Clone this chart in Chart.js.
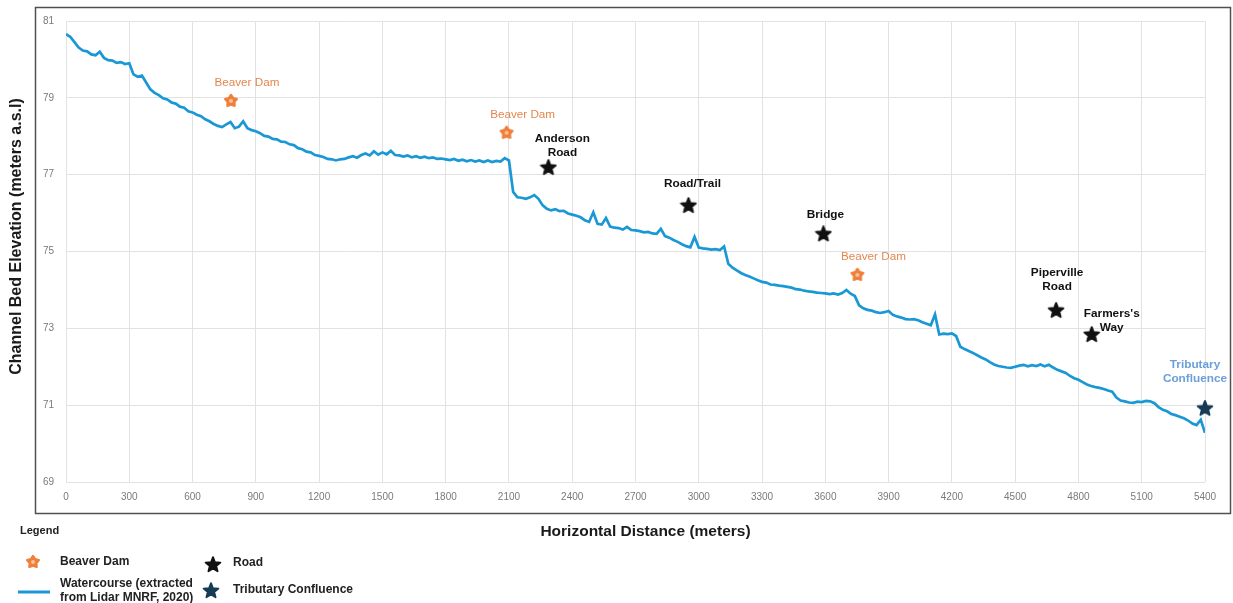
<!DOCTYPE html>
<html>
<head>
<meta charset="utf-8">
<title>Channel Bed Profile</title>
<script src="https://cdn.jsdelivr.net/npm/chart.js@4/dist/chart.umd.min.js"></script>
<style>
  html, body { margin: 0; padding: 0; background: #ffffff; }
  #profile { display: block; }
</style>
</head>
<body>
<canvas id="profile" width="1233" height="603"></canvas>
<script>
// ---- Longitudinal profile (Lidar MNRF, 2020), sampled every 20 m ----
const distanceM = [
  0, 20, 40, 60, 80, 100, 120, 140, 160, 180, 200, 220, 240, 260, 280,
  300, 320, 340, 360, 380, 400, 420, 440, 460, 480, 500, 520, 540, 560, 580,
  600, 620, 640, 660, 680, 700, 720, 740, 760, 780, 800, 820, 840, 860, 880,
  900, 920, 940, 960, 980, 1000, 1020, 1040, 1060, 1080, 1100, 1120, 1140, 1160, 1180,
  1200, 1220, 1240, 1260, 1280, 1300, 1320, 1340, 1360, 1380, 1400, 1420, 1440, 1460, 1480,
  1500, 1520, 1540, 1560, 1580, 1600, 1620, 1640, 1660, 1680, 1700, 1720, 1740, 1760, 1780,
  1800, 1820, 1840, 1860, 1880, 1900, 1920, 1940, 1960, 1980, 2000, 2020, 2040, 2060, 2080,
  2100, 2120, 2140, 2160, 2180, 2200, 2220, 2240, 2260, 2280, 2300, 2320, 2340, 2360, 2380,
  2400, 2420, 2440, 2460, 2480, 2500, 2520, 2540, 2560, 2580, 2600, 2620, 2640, 2660, 2680,
  2700, 2720, 2740, 2760, 2780, 2800, 2820, 2840, 2860, 2880, 2900, 2920, 2940, 2960, 2980,
  3000, 3020, 3040, 3060, 3080, 3100, 3120, 3140, 3160, 3180, 3200, 3220, 3240, 3260, 3280,
  3300, 3320, 3340, 3360, 3380, 3400, 3420, 3440, 3460, 3480, 3500, 3520, 3540, 3560, 3580,
  3600, 3620, 3640, 3660, 3680, 3700, 3720, 3740, 3760, 3780, 3800, 3820, 3840, 3860, 3880,
  3900, 3920, 3940, 3960, 3980, 4000, 4020, 4040, 4060, 4080, 4100, 4120, 4140, 4160, 4180,
  4200, 4220, 4240, 4260, 4280, 4300, 4320, 4340, 4360, 4380, 4400, 4420, 4440, 4460, 4480,
  4500, 4520, 4540, 4560, 4580, 4600, 4620, 4640, 4660, 4680, 4700, 4720, 4740, 4760, 4780,
  4800, 4820, 4840, 4860, 4880, 4900, 4920, 4940, 4960, 4980, 5000, 5020, 5040, 5060, 5080,
  5100, 5120, 5140, 5160, 5180, 5200, 5220, 5240, 5260, 5280, 5300, 5320, 5340, 5360, 5380,
  5400
];

const elevationM = [
  80.66, 80.59, 80.45, 80.31, 80.23, 80.21, 80.13, 80.11, 80.20, 80.04, 79.98, 79.97, 79.91, 79.93, 79.88,
  79.90, 79.61, 79.55, 79.58, 79.40, 79.22, 79.13, 79.07, 78.99, 78.96, 78.88, 78.85, 78.77, 78.74, 78.65,
  78.62, 78.56, 78.52, 78.44, 78.39, 78.32, 78.27, 78.24, 78.31, 78.37, 78.21, 78.25, 78.39, 78.21, 78.16,
  78.13, 78.08, 78.01, 77.99, 77.93, 77.92, 77.86, 77.85, 77.79, 77.77, 77.69, 77.66, 77.60, 77.58, 77.51,
  77.49, 77.46, 77.41, 77.40, 77.37, 77.40, 77.41, 77.45, 77.48, 77.44, 77.51, 77.55, 77.50, 77.61, 77.52,
  77.58, 77.53, 77.62, 77.51, 77.50, 77.47, 77.50, 77.45, 77.48, 77.44, 77.47, 77.43, 77.45, 77.41, 77.42,
  77.40, 77.38, 77.41, 77.36, 77.39, 77.35, 77.38, 77.34, 77.37, 77.33, 77.37, 77.33, 77.36, 77.34, 77.43,
  77.37, 76.55, 76.41, 76.40, 76.37, 76.41, 76.47, 76.37, 76.20, 76.11, 76.07, 76.10, 76.05, 76.06, 75.99,
  75.96, 75.93, 75.89, 75.81, 75.77, 76.02, 75.72, 75.70, 75.87, 75.65, 75.62, 75.61, 75.57, 75.64, 75.56,
  75.55, 75.53, 75.50, 75.51, 75.47, 75.46, 75.59, 75.40, 75.36, 75.30, 75.25, 75.19, 75.14, 75.11, 75.38,
  75.10, 75.08, 75.07, 75.05, 75.06, 75.04, 75.13, 74.68, 74.58, 74.51, 74.44, 74.39, 74.35, 74.30, 74.25,
  74.21, 74.19, 74.14, 74.13, 74.11, 74.10, 74.08, 74.06, 74.02, 74.01, 73.98, 73.96, 73.95, 73.93, 73.92,
  73.91, 73.89, 73.91, 73.88, 73.92, 74.00, 73.90, 73.84, 73.60, 73.52, 73.48, 73.46, 73.42, 73.40, 73.42,
  73.45, 73.35, 73.31, 73.28, 73.24, 73.23, 73.24, 73.21, 73.16, 73.12, 73.08, 73.36, 72.84, 72.86, 72.85,
  72.87, 72.80, 72.52, 72.46, 72.41, 72.36, 72.30, 72.24, 72.19, 72.12, 72.06, 72.02, 72.00, 71.98, 71.97,
  72.00, 72.03, 72.05, 72.01, 72.04, 72.02, 72.06, 72.01, 72.05, 71.98, 71.92, 71.88, 71.84, 71.76, 71.70,
  71.66, 71.60, 71.54, 71.50, 71.47, 71.45, 71.42, 71.38, 71.35, 71.20, 71.12, 71.10, 71.07, 71.06, 71.09,
  71.08, 71.11, 71.10, 71.05, 70.95, 70.88, 70.84, 70.77, 70.74, 70.70, 70.66, 70.60, 70.52, 70.48, 70.62,
  70.28
];

// ---- Features along the watercourse ----
const beaverDamDistM = [782, 2089, 3752];
const beaverDamElevM = [78.92, 78.09, 74.39];

const roadNames = [['Anderson', 'Road'], ['Road/Trail'], ['Bridge'], ['Piperville', 'Road'], ["Farmers's", 'Way']];
const roadDistM = [2287, 2951, 3591, 4694, 4863];
const roadElevM = [77.18, 76.19, 75.45, 73.46, 72.83];

const tributaryNames = [['Tributary', 'Confluence']];
const tributaryDistM = [5400];
const tributaryElevM = [70.91];

// ---- Axis ticks ----
const xTickStep = 300;
const yTickStep = 2;
const xRange = [0, 5400];
const yRange = [69, 81];

// ---- Styling ----
const LINE_BLUE = '#1a98d5';
const DAM_ORANGE = '#ef7f3a';
const DAM_TEXT = '#e2874e';
const ROAD_BLACK = '#111111';
const TRIB_NAVY = '#163b57';
const TRIB_TEXT = '#6a9fd9';
const FONT = '"Liberation Sans", Arial, Helvetica, sans-serif';

// label placement around each marker (pixels: dx, dy of first line)
const roadLabelOffsets = [[14, -29], [4, -22], [2, -19], [1, -38], [20, -21]];
const damLabelOffset = [16, -18];
const tribLabelOffset = [-10, -44];
const LINE_GAP = 14;

function starCanvas(size, rOuter, rInner, fill, strokeW, centre) {
  const c = document.createElement('canvas');
  c.width = size; c.height = size;
  const g = c.getContext('2d');
  g.translate(size / 2, size / 2);
  g.beginPath();
  for (let i = 0; i < 10; i++) {
    const r = i % 2 ? rInner : rOuter;
    const a = -Math.PI / 2 + i * Math.PI / 5;
    g.lineTo(r * Math.cos(a), r * Math.sin(a));
  }
  g.closePath();
  g.fillStyle = fill;
  g.fill();
  g.lineJoin = 'round';
  g.lineWidth = strokeW;
  g.strokeStyle = fill;
  g.stroke();
  if (centre) {
    g.beginPath();
    g.arc(0, 0, 2, 0, Math.PI * 2);
    g.fillStyle = centre;
    g.fill();
  }
  return c;
}

const damIcon = starCanvas(16, 6.2, 3.6, DAM_ORANGE, 2.2, '#f8c39c');
const roadIcon = starCanvas(18, 7.8, 3.4, ROAD_BLACK, 1.8, null);
const tribIcon = starCanvas(18, 7.8, 3.4, TRIB_NAVY, 1.8, null);

function pairs(xs, ys) { return xs.map((x, i) => ({ x: x, y: ys[i] })); }

const featureLabels = {
  id: 'featureLabels',
  afterDatasetsDraw(chart) {
    const ctx = chart.ctx;
    ctx.save();
    ctx.textAlign = 'center';
    ctx.textBaseline = 'middle';

    const dams = chart.getDatasetMeta(1).data;
    ctx.font = '11.7px ' + FONT;
    ctx.fillStyle = DAM_TEXT;
    dams.forEach(p => ctx.fillText('Beaver Dam', p.x + damLabelOffset[0], p.y + damLabelOffset[1]));

    const roads = chart.getDatasetMeta(2).data;
    ctx.font = 'bold 11.8px ' + FONT;
    ctx.fillStyle = ROAD_BLACK;
    roads.forEach((p, i) => {
      const [dx, dy] = roadLabelOffsets[i];
      roadNames[i].forEach((t, k) => ctx.fillText(t, p.x + dx, p.y + dy + k * LINE_GAP));
    });

    const trib = chart.getDatasetMeta(3).data;
    ctx.fillStyle = TRIB_TEXT;
    trib.forEach((p, i) => {
      tributaryNames[i].forEach((t, k) => ctx.fillText(t, p.x + tribLabelOffset[0], p.y + tribLabelOffset[1] + k * LINE_GAP));
    });
    ctx.restore();
  }
};

const frameTitlesLegend = {
  id: 'frameTitlesLegend',
  afterDraw(chart) {
    const ctx = chart.ctx;
    const a = chart.chartArea;
    ctx.save();

    // outer frame around the plot
    ctx.strokeStyle = '#505050';
    ctx.lineWidth = 1.5;
    ctx.strokeRect(a.left - 30.5, a.top - 13.5, (a.right - a.left) + 56, (a.bottom - a.top) + 45);

    // axis titles
    ctx.fillStyle = '#1a1a1a';
    ctx.textAlign = 'center';
    ctx.textBaseline = 'middle';
    ctx.font = 'bold 15.5px ' + FONT;
    ctx.fillText('Horizontal Distance (meters)', (a.left + a.right) / 2 + 10, a.bottom + 50);
    ctx.save();
    ctx.translate(a.left - 49, (a.top + a.bottom) / 2 - 15);
    ctx.rotate(-Math.PI / 2);
    ctx.font = 'bold 16px ' + FONT;
    ctx.fillText('Channel Bed Elevation (meters a.s.l)', 0, 0);
    ctx.restore();

    // legend
    ctx.textAlign = 'left';
    ctx.fillStyle = '#222222';
    ctx.font = 'bold 11px ' + FONT;
    ctx.fillText('Legend', 20, 531);
    ctx.font = 'bold 12px ' + FONT;
    ctx.drawImage(damIcon, 33 - 8, 562 - 8);
    ctx.fillText('Beaver Dam', 60, 562);
    ctx.strokeStyle = LINE_BLUE;
    ctx.lineWidth = 3;
    ctx.beginPath();
    ctx.moveTo(18, 592);
    ctx.lineTo(50, 592);
    ctx.stroke();
    ctx.fillText('Watercourse (extracted', 60, 584);
    ctx.fillText('from Lidar MNRF, 2020)', 60, 598);
    ctx.drawImage(roadIcon, 213 - 9, 565 - 9);
    ctx.fillText('Road', 233, 563);
    ctx.drawImage(tribIcon, 211 - 9, 591 - 9);
    ctx.fillText('Tributary Confluence', 233, 590);
    ctx.restore();
  }
};

new Chart(document.getElementById('profile'), {
  type: 'line',
  data: {
    datasets: [
      {
        label: 'Watercourse (extracted from Lidar MNRF, 2020)',
        data: pairs(distanceM, elevationM),
        borderColor: LINE_BLUE,
        borderWidth: 2.7,
        pointRadius: 0,
        tension: 0,
        fill: false
      },
      {
        type: 'scatter',
        label: 'Beaver Dam',
        data: pairs(beaverDamDistM, beaverDamElevM),
        pointStyle: damIcon,
        showLine: false,
        clip: false
      },
      {
        type: 'scatter',
        label: 'Road',
        data: pairs(roadDistM, roadElevM),
        pointStyle: roadIcon,
        showLine: false,
        clip: false
      },
      {
        type: 'scatter',
        label: 'Tributary Confluence',
        data: pairs(tributaryDistM, tributaryElevM),
        pointStyle: tribIcon,
        showLine: false,
        clip: false
      }
    ]
  },
  options: {
    responsive: false,
    animation: false,
    devicePixelRatio: 1,
    events: [],
    layout: { padding: { left: 43, top: 21, right: 28, bottom: 101 } },
    plugins: { legend: { display: false }, tooltip: { enabled: false } },
    scales: {
      x: {
        type: 'linear',
        min: xRange[0],
        max: xRange[1],
        afterFit(s) { s.height = 20; },
        ticks: {
          stepSize: xTickStep,
          color: '#7a7a7a',
          font: { family: FONT, size: 10 },
          padding: 9,
          maxRotation: 0,
          autoSkip: false,
          callback: v => String(v)
        },
        grid: { color: '#e2e2e2', lineWidth: 1, drawTicks: false },
        border: { display: false }
      },
      y: {
        type: 'linear',
        min: yRange[0],
        max: yRange[1],
        afterFit(s) { s.width = 23; },
        ticks: { stepSize: yTickStep, color: '#7a7a7a', font: { family: FONT, size: 10 }, crossAlign: 'far', padding: 4 },
        grid: { color: '#e2e2e2', lineWidth: 1, drawTicks: false },
        border: { display: false }
      }
    }
  },
  plugins: [featureLabels, frameTitlesLegend]
});
</script>
</body>
</html>
